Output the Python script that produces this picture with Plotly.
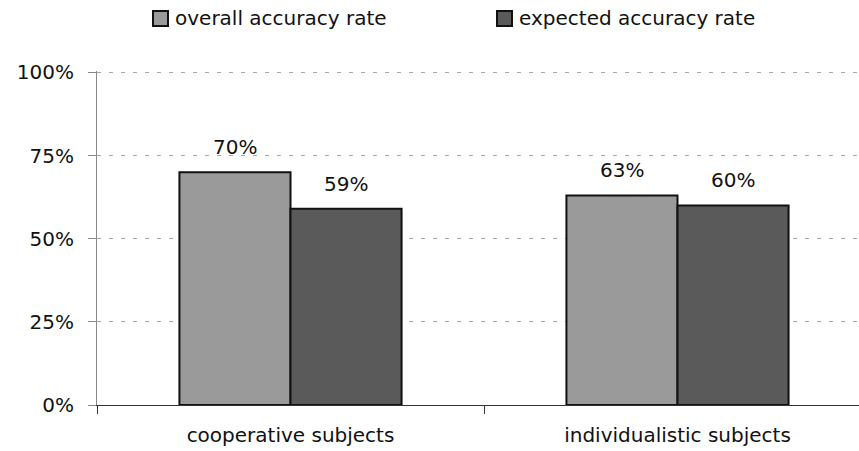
import plotly.graph_objects as go

categories = ["cooperative subjects", "individualistic subjects"]
overall = [70, 63]
expected = [59, 60]
series_names = ["overall accuracy rate", "expected accuracy rate"]
tick_vals = [0, 25, 50, 75, 100]
tick_text = ["0%", "25%", "50%", "75%", "100%"]
colors = ["#9a9a9a", "#5a5a5a"]

FONT = "DejaVu Sans"
FS = 20
W, H = 859, 451
L, R, T, B = 97, 0, 71, 46
YMAX = 100.4

fig = go.Figure()
for name, vals, col in zip(series_names, [overall, expected], colors):
    fig.add_trace(go.Bar(
        x=categories, y=vals, name=name,
        marker=dict(color=col, line=dict(color="#111111", width=2)),
        showlegend=False,
    ))

# value labels above bars
for vals, shift in [(overall, -55.5), (expected, 55.5)]:
    for c, v in zip(categories, vals):
        fig.add_annotation(
            x=c, y=v, text=f"{v}%", showarrow=False,
            xshift=shift, yshift=11, yanchor="bottom", xanchor="center",
            font=dict(family=FONT, size=FS, color="#111111"),
        )

# custom legend (paper coords derived from pixel layout)
pw = W - L - R
ph = H - T - B
def px2x(p):
    return (p - L) / pw
def py2y(p):
    return (H - B - p) / ph

for i, (name, col) in enumerate(zip(series_names, colors)):
    x0 = 153 + i * 344
    fig.add_shape(
        type="rect", xref="paper", yref="paper",
        x0=px2x(x0), x1=px2x(x0 + 15), y0=py2y(26), y1=py2y(11),
        fillcolor=col, line=dict(color="#111111", width=2),
    )
    fig.add_annotation(
        xref="paper", yref="paper", x=px2x(x0 + 20), y=py2y(18.5),
        text=name, showarrow=False, xanchor="left", yanchor="middle",
        font=dict(family=FONT, size=FS, color="#111111"),
    )

fig.update_layout(
    width=W, height=H,
    margin=dict(l=L, r=R, t=T, b=B),
    paper_bgcolor="white", plot_bgcolor="white",
    barmode="group", bargap=0.426, bargroupgap=0,
    font=dict(family=FONT, size=FS, color="#111111"),
    showlegend=False,
    xaxis=dict(
        range=[-0.5, -0.5 + (W - L) / 387], automargin=False,
        showline=True, linecolor="#333333", linewidth=1,
        ticks="outside", ticklen=8, tickcolor="#333333", tickson="boundaries",
        ticklabelstandoff=12,
        showgrid=False, zeroline=False,
        tickfont=dict(family=FONT, size=FS, color="#111111"),
    ),
    yaxis=dict(
        range=[0, YMAX], automargin=False,
        tickvals=tick_vals, ticktext=tick_text,
        showline=True, linecolor="#888888", linewidth=1,
        ticks="outside", ticklen=8, tickcolor="#888888",
        ticklabelstandoff=10,
        showgrid=True, gridcolor="#a8a8a8", griddash="4px,8px", gridwidth=1,
        zeroline=False,
        tickfont=dict(family=FONT, size=FS, color="#111111"),
    ),
)

fig.write_html("out.html")
